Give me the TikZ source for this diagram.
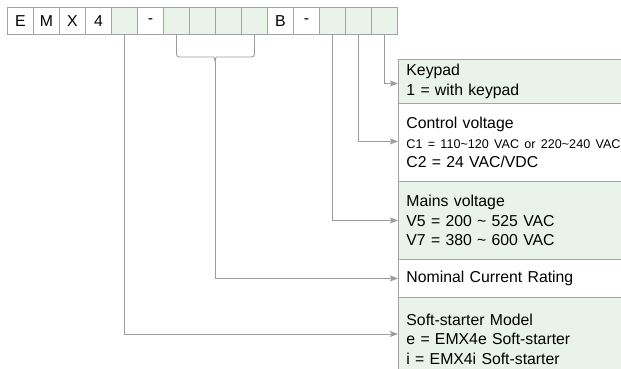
\documentclass[tikz,border=0pt]{standalone}
\usepackage{fontspec}
\setmainfont{Liberation Sans}
\usetikzlibrary{arrows.meta}
\definecolor{cellgreen}{HTML}{E9F3E9}
\definecolor{bordergray}{HTML}{A3A3A3}
\definecolor{linegray}{HTML}{9C9C9C}
\begin{document}
\begin{tikzpicture}[x=1pt,y=-1pt,
  cellbox/.style={draw=bordergray, line width=0.9pt, minimum width=26pt, minimum height=27pt, inner sep=0pt, anchor=north west,
    font=\fontsize{15.8}{19.5}\selectfont},
  infobox/.style={draw=bordergray, line width=0.9pt, minimum width=240pt, anchor=north west, inner xsep=8pt, inner ysep=0pt,
    text width=224pt, align=left, font=\fontsize{15.8}{19.5}\selectfont},
  conn/.style={draw=linegray, line width=0.9pt},
  arr/.style={conn, -{Stealth[length=8pt,width=6pt,inset=1.5pt]}}
]
\useasboundingbox (0,0) rectangle (621,369);
% top code cells
\foreach \i/\t/\f in {1/E/white,2/M/white,3/X/white,4/4/white,5//cellgreen,6/-/white,7//cellgreen,8//cellgreen,9//cellgreen,10//cellgreen,11/B/white,12/-/white,13//cellgreen,14//cellgreen,15//cellgreen}{
  \node[cellbox, fill=\f] (c\i) at ({7+(\i-1)*26},7) {\t};
}
% description boxes
\node[infobox, fill=cellgreen, minimum height=44pt] (kp) at (398,59)
  {Keypad\\1 = with keypad};
\node[infobox, fill=white, minimum height=78pt] (cv) at (398,103)
  {Control voltage\\{\fontsize{12.6}{16}\selectfont C1 = 110\textasciitilde120 VAC or 220\textasciitilde240 VAC}\\C2 = 24 VAC/VDC};
\node[infobox, fill=cellgreen, minimum height=78pt] (mv) at (398,181)
  {Mains voltage\\V5 = 200 \textasciitilde{} 525 VAC\\V7 = 380 \textasciitilde{} 600 VAC};
\node[infobox, fill=white, minimum height=38pt] (nc) at (398,259)
  {Nominal Current Rating};
\node[infobox, fill=cellgreen, minimum height=83pt] (sm) at (398,297)
  {Soft-starter Model\\e = EMX4e Soft-starter\\i = EMX4i Soft-starter};
% connectors
\draw[arr] (c15.south) |- ([yshift=-2pt]kp.west);
\draw[arr] (c14.south) |- ([yshift=1pt]cv.west);
\draw[arr] (c13.south) |- (mv.west);
\coordinate (bc) at (215,61);
\draw[conn] (c7.south) [rounded corners=3pt] |- (211,57) [sharp corners] to[out=0,in=90] (bc);
\draw[conn] (c10.south) [rounded corners=3pt] |- (219,57) [sharp corners] to[out=180,in=90] (bc);
\draw[arr] (bc) |- (nc.west);
\draw[arr] (c5.south) |- ([yshift=5pt]sm.west);
\end{tikzpicture}
\end{document}
